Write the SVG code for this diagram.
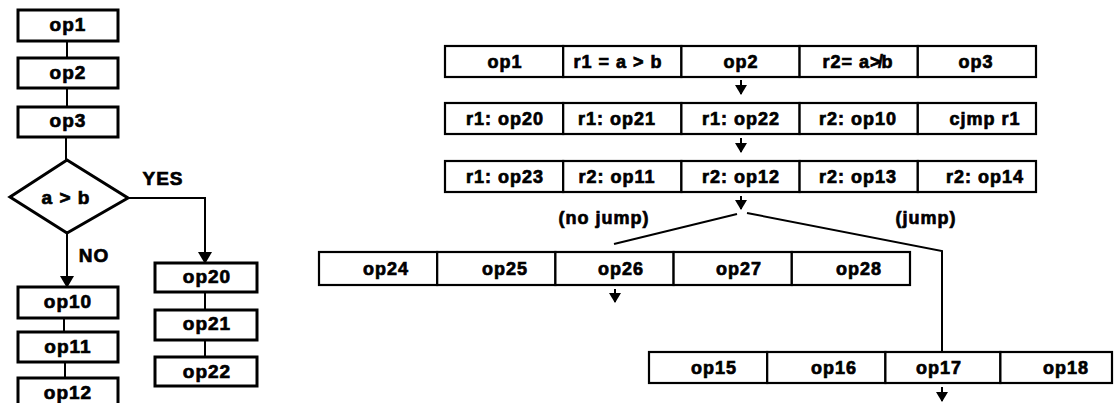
<svg xmlns="http://www.w3.org/2000/svg" width="1114" height="403" viewBox="0 0 1114 403">
  <style>
    .fc rect, .fc polygon { fill: #fff; stroke: #000; stroke-width: 3; }
    .cell rect { fill: #fff; stroke: #000; stroke-width: 2.2; }
    text { font-family: "Liberation Sans", Arial, sans-serif; font-weight: bold; fill: #000; stroke: #000; stroke-width: 0.7; text-anchor: middle; letter-spacing: 1px; }
    .fc text { font-size: 19px; }
    .cell text, .lbl { font-size: 18px; }
    .wire { fill: none; stroke: #000; stroke-width: 2; }
    .sym { font-family: "Liberation Sans", "DejaVu Sans", sans-serif; }
  </style>
  <defs>
    <marker id="head" markerUnits="userSpaceOnUse" markerWidth="12" markerHeight="14" refX="11" refY="7" orient="auto">
      <path d="M0,0 L12,7 L0,14 z" fill="#000"/>
    </marker>
    <marker id="tick" markerUnits="userSpaceOnUse" markerWidth="10" markerHeight="12" refX="9" refY="6" orient="auto">
      <path d="M0,0 L10,6 L0,12 z" fill="#000"/>
    </marker>
  </defs>

  <!-- flowchart, left -->
  <g id="f-op1" class="fc"><rect x="18" y="10" width="100" height="31"/><text x="68" y="31">op1</text></g>
  <g id="f-op2" class="fc"><rect x="18" y="58" width="100" height="30"/><text x="68" y="79">op2</text></g>
  <g id="f-op3" class="fc"><rect x="18" y="107" width="100" height="30"/><text x="68" y="127">op3</text></g>
  <g id="f-cond" class="fc"><polygon points="67,160 128,198 67,233 10,197"/><text x="66" y="204">a &gt; b</text></g>
  <g id="f-op10" class="fc"><rect x="18" y="287" width="100" height="31"/><text x="68" y="308">op10</text></g>
  <g id="f-op11" class="fc"><rect x="18" y="332" width="100" height="30"/><text x="68" y="353">op11</text></g>
  <g id="f-op12" class="fc"><rect x="18" y="378" width="100" height="34"/><text x="68" y="399">op12</text></g>
  <g id="f-op20" class="fc"><rect x="155" y="263" width="102" height="29"/><text x="207" y="283">op20</text></g>
  <g id="f-op21" class="fc"><rect x="155" y="310" width="102" height="30"/><text x="207" y="330">op21</text></g>
  <g id="f-op22" class="fc"><rect x="155" y="357" width="102" height="29"/><text x="207" y="378">op22</text></g>
  <text class="lbl" x="163" y="185" style="font-size:19px">YES</text>
  <text class="lbl" x="94" y="262" style="font-size:19px">NO</text>

  <!-- scheduled rows, right -->
  <g id="row1">
    <g id="r1c1" class="cell"><rect x="445" y="46" width="118.2" height="31"/><text x="505" y="68">op1</text></g>
    <g id="r1c2" class="cell"><rect x="563.2" y="46" width="118.2" height="31"/><text x="618" y="68">r1 = a &gt; b</text></g>
    <g id="r1c3" class="cell"><rect x="681.4" y="46" width="118.2" height="31"/><text x="741" y="68">op2</text></g>
    <g id="r1c4" class="cell"><rect x="799.6" y="46" width="118.2" height="31"/><text x="858" y="68" class="sym">r2= a≯b</text></g>
    <g id="r1c5" class="cell"><rect x="917.8" y="46" width="118.2" height="31"/><text x="976" y="68">op3</text></g>
  </g>
  <g id="row2">
    <g id="r2c1" class="cell"><rect x="445" y="103" width="118.2" height="31"/><text x="505" y="125">r1: op20</text></g>
    <g id="r2c2" class="cell"><rect x="563.2" y="103" width="118.2" height="31"/><text x="617" y="125">r1: op21</text></g>
    <g id="r2c3" class="cell"><rect x="681.4" y="103" width="118.2" height="31"/><text x="741" y="125">r1: op22</text></g>
    <g id="r2c4" class="cell"><rect x="799.6" y="103" width="118.2" height="31"/><text x="858" y="125">r2: op10</text></g>
    <g id="r2c5" class="cell"><rect x="917.8" y="103" width="118.2" height="31"/><text x="985" y="125">cjmp r1</text></g>
  </g>
  <g id="row3">
    <g id="r3c1" class="cell"><rect x="445" y="161" width="118.2" height="31"/><text x="505" y="183">r1: op23</text></g>
    <g id="r3c2" class="cell"><rect x="563.2" y="161" width="118.2" height="31"/><text x="617" y="183">r2: op11</text></g>
    <g id="r3c3" class="cell"><rect x="681.4" y="161" width="118.2" height="31"/><text x="741" y="183">r2: op12</text></g>
    <g id="r3c4" class="cell"><rect x="799.6" y="161" width="118.2" height="31"/><text x="858" y="183">r2: op13</text></g>
    <g id="r3c5" class="cell"><rect x="917.8" y="161" width="118.2" height="31"/><text x="985" y="183">r2: op14</text></g>
  </g>
  <g id="row4">
    <g id="r4c1" class="cell"><rect x="319" y="252" width="118.2" height="33"/><text x="386" y="275">op24</text></g>
    <g id="r4c2" class="cell"><rect x="437.2" y="252" width="118.2" height="33"/><text x="505" y="275">op25</text></g>
    <g id="r4c3" class="cell"><rect x="555.4" y="252" width="118.2" height="33"/><text x="621" y="275">op26</text></g>
    <g id="r4c4" class="cell"><rect x="673.6" y="252" width="118.2" height="33"/><text x="739" y="275">op27</text></g>
    <g id="r4c5" class="cell"><rect x="791.8" y="252" width="118.2" height="33"/><text x="859" y="275">op28</text></g>
  </g>
  <g id="row5">
    <g id="r5c1" class="cell"><rect x="649" y="352" width="118.2" height="31"/><text x="714" y="374">op15</text></g>
    <g id="r5c2" class="cell"><rect x="767.2" y="352" width="118.2" height="31"/><text x="834" y="374">op16</text></g>
    <g id="r5c3" class="cell"><rect x="885.4" y="352" width="115" height="31"/><text x="939" y="374">op17</text></g>
    <g id="r5c4" class="cell"><rect x="1000.4" y="352" width="111.6" height="31"/><text x="1066" y="374">op18</text></g>
  </g>
  <text class="lbl" x="604" y="224">(no jump)</text>
  <text class="lbl" x="926" y="224">(jump)</text>

  <!-- connectors -->
  <g id="connectors" class="wire">
    <path d="M67,41 V58"/>
    <path d="M67,88 V107"/>
    <path d="M66,137 V160"/>
    <path d="M128,198 H205 V263" marker-end="url(#head)"/>
    <path d="M67,233 V287" marker-end="url(#head)"/>
    <path d="M64,318 V332"/>
    <path d="M65,362 V378"/>
    <path d="M205,292 V310"/>
    <path d="M205,340 V357"/>

    <path d="M741,80 V94" marker-end="url(#tick)"/>
    <path d="M741,138 V152" marker-end="url(#tick)"/>
    <path d="M741,196 V209" marker-end="url(#tick)"/>
    <path d="M737,214 L614,244"/>
    <path d="M747,213 L942,251 V352"/>
    <path d="M615,289 V302" marker-end="url(#tick)"/>
    <path d="M942,387 V401" marker-end="url(#tick)"/>
  </g>
</svg>
